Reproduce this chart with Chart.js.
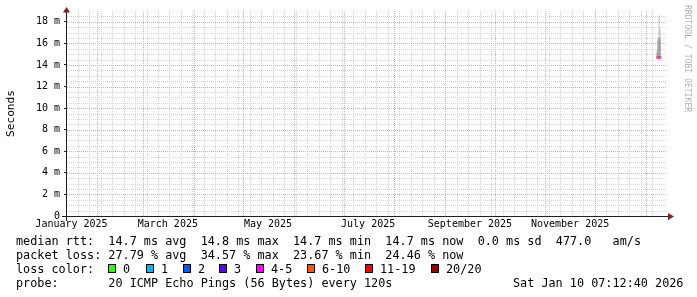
<!DOCTYPE html>
<html>
<head>
<meta charset="utf-8">
<title>smokeping - last 360 days</title>
<script src="https://cdn.jsdelivr.net/npm/chart.js@4.4.1/dist/chart.umd.min.js"></script>
<style>
  html, body { margin: 0; padding: 0; background: #fff; }
  #wrap { width: 697px; height: 297px; }
</style>
</head>
<body>
<div id="wrap"><canvas id="smoke" width="697" height="297"></canvas></div>
<script>
// x values are days counted from 1 Jan 2025 (= day 0), y values are milliseconds
const rangeStart = 15.3;   // Jan 16 2025 07:12
const rangeEnd = 375.3;    // Jan 10 2026 07:12
const firstMonday = 5;     // Jan 6 2025
const monthStarts = [31, 59, 90, 120, 151, 181, 212, 243, 273, 304, 334, 365];
const monthLabels = ['January 2025', 'March 2025', 'May 2025', 'July 2025', 'September 2025', 'November 2025'];
const labelDays = [15.3, 74, 135, 196, 258, 319];
const yLabelValues = [0, 2, 4, 6, 8, 10, 12, 14, 16, 18];

// the few days with samples, at the right edge
const sampleDays = [372.0, 372.6, 373.2, 373.8];
const rttMin = [14.6, 14.6, 14.6, 14.6];
const rttMax = [15.4, 16.4, 18.6, 17.3];
const coreLow = [14.6, 14.7, 14.7, 14.7];
const coreHigh = [15.1, 16.2, 16.6, 16.4];
const medianRtt = [14.7, 14.7, 14.7, 14.7];
const lostPings = [6, 6, 5, 5];

const lossBuckets = ['0', '1', '2', '3', '4-5', '6-10', '11-19', '20/20'];
const lossColors = ['#26ff00', '#00b8ff', '#0059ff', '#5e00ff', '#ff00ff', '#ff5500', '#ff0000', '#a10000'];
const lossBoxX = [108, 146, 183, 219, 256, 307, 365, 431];

const legendLines = [
  'median rtt:  14.7 ms avg  14.8 ms max  14.7 ms min  14.7 ms now  0.0 ms sd  477.0   am/s',
  'packet loss: 27.79 % avg  34.57 % max  23.67 % min  24.46 % now',
];
const probeLine = 'probe:       20 ICMP Echo Pings (56 Bytes) every 120s';
const stampText = 'Sat Jan 10 07:12:40 2026';
const watermark = 'RRDTOOL / TOBI OETIKER';

const MONO = '"DejaVu Sans Mono", "Liberation Mono", monospace';
const minorGrid = '#d6d6d6';
const majorGrid = '#f2a2a2';
const axisColor = '#1f1f1f';
const arrowColor = '#801f1f';
const none = 'rgba(0,0,0,0)';

const lossColorFor = (n) => {
  if (n <= 3) return lossColors[n];
  if (n <= 5) return lossColors[4];
  if (n <= 10) return lossColors[5];
  if (n <= 19) return lossColors[6];
  return lossColors[7];
};

// vertical grid: weekly (mondays), monthly, and the label positions
const mondays = [];
for (let d = firstMonday; d < rangeEnd; d += 7) {
  if (d > rangeStart && !monthStarts.includes(d)) mondays.push(d);
}
const xTickValues = [...new Set([...mondays, ...monthStarts, ...labelDays])].sort((a, b) => a - b);
const yTickValues = [];
for (let v = 0; v < 19; v += 0.5) yTickValues.push(v);

const tickVal = (c) => (c && c.tick ? c.tick.value : null);

// dotted rrdtool style grid, placed through the chart scales
const dottedGrid = {
  id: 'dottedGrid',
  beforeDatasetsDraw(chart) {
    const ctx = chart.ctx;
    const ca = chart.chartArea;
    const xs = chart.scales.x;
    const ys = chart.scales.y;
    const top = Math.round(ca.top);
    const bottom = Math.round(ca.bottom);
    const left = Math.round(ca.left);
    const right = Math.round(ca.right);
    const hLine = (v, color) => {
      const row = Math.round(ys.getPixelForValue(v));
      ctx.fillStyle = color;
      for (let x = left; x < right; x += 2) ctx.fillRect(x, row, 1, 1);
    };
    const vLine = (v, color) => {
      const col = Math.round(xs.getPixelForValue(v));
      ctx.fillStyle = color;
      for (let y = bottom - 1; y >= top; y -= 2) ctx.fillRect(col, y, 1, 1);
    };
    ctx.save();
    yTickValues.filter(v => v > 0 && !yLabelValues.includes(v)).forEach(v => hLine(v, minorGrid));
    mondays.forEach(v => vLine(v, minorGrid));
    yLabelValues.filter(v => v > 0).forEach(v => hLine(v, majorGrid));
    monthStarts.forEach(v => vLine(v, majorGrid));
    ctx.restore();
  }
};

const rrdDecor = {
  id: 'rrdDecor',
  beforeDraw(chart) {
    const ctx = chart.ctx;
    ctx.save();
    ctx.fillStyle = '#fff';
    ctx.fillRect(0, 0, chart.width, chart.height);
    ctx.restore();
  },
  afterDraw(chart) {
    const ctx = chart.ctx;
    const ca = chart.chartArea;
    ctx.save();

    // axes
    ctx.strokeStyle = axisColor;
    ctx.lineWidth = 1;
    ctx.beginPath();
    ctx.moveTo(ca.left - 5, ca.bottom + 0.5);
    ctx.lineTo(ca.right + 3, ca.bottom + 0.5);
    ctx.moveTo(ca.left - 0.5, ca.bottom + 5);
    ctx.lineTo(ca.left - 0.5, ca.top - 2);
    ctx.stroke();

    // arrows
    ctx.fillStyle = arrowColor;
    ctx.beginPath();
    ctx.moveTo(ca.right + 1, ca.bottom + 0.5 - 3.5);
    ctx.lineTo(ca.right + 7, ca.bottom + 0.5);
    ctx.lineTo(ca.right + 1, ca.bottom + 0.5 + 3.5);
    ctx.closePath();
    ctx.fill();
    ctx.beginPath();
    ctx.moveTo(ca.left - 0.5 - 3.5, ca.top + 1.5);
    ctx.lineTo(ca.left - 0.5, ca.top - 4);
    ctx.lineTo(ca.left - 0.5 + 3.5, ca.top + 1.5);
    ctx.closePath();
    ctx.fill();

    // watermark on the right
    ctx.save();
    ctx.translate(685, 5);
    ctx.rotate(Math.PI / 2);
    ctx.font = '8.1px ' + MONO;
    ctx.fillStyle = 'rgba(0,0,0,0.33)';
    ctx.textBaseline = 'alphabetic';
    ctx.fillText(watermark, 0, 0);
    ctx.restore();

    // legend
    ctx.font = '11.8px ' + MONO;
    ctx.fillStyle = '#000';
    ctx.textBaseline = 'alphabetic';
    ctx.fillText(legendLines[0], 16, 245);
    ctx.fillText(legendLines[1], 16, 259);
    ctx.fillText('loss color:', 16, 273);
    lossBuckets.forEach((b, i) => {
      const x = lossBoxX[i];
      ctx.fillStyle = lossColors[i];
      ctx.fillRect(x, 264, 8, 9);
      ctx.strokeStyle = '#000';
      ctx.strokeRect(x + 0.5, 264.5, 7, 8);
      ctx.fillStyle = '#000';
      ctx.fillText(b, x + 15, 273);
    });
    ctx.fillText(probeLine, 16, 287);
    ctx.fillText(stampText, 513, 287);

    ctx.restore();
  }
};

const ctx = document.getElementById('smoke').getContext('2d');
new Chart(ctx, {
  type: 'bar',
  data: {
    datasets: [
      {
        label: 'median',
        order: 0,
        data: sampleDays.map((d, i) => ({ x: d, y: [medianRtt[i] - 0.14, medianRtt[i] + 0.14] })),
        backgroundColor: lostPings.map(lossColorFor),
      },
      {
        label: 'smoke core',
        order: 1,
        data: sampleDays.map((d, i) => ({ x: d, y: [coreLow[i], coreHigh[i]] })),
        backgroundColor: '#949494',
      },
      {
        label: 'smoke',
        order: 2,
        data: sampleDays.map((d, i) => ({ x: d, y: [rttMin[i], rttMax[i]] })),
        backgroundColor: '#bdbdbd',
      }
    ]
  },
  options: {
    responsive: false,
    animation: false,
    events: [],
    layout: { padding: { top: 11, right: 30, bottom: 61, left: 0 } },
    datasets: {
      bar: { grouped: false, barThickness: 1, borderWidth: 0, inflateAmount: 0 }
    },
    plugins: {
      legend: { display: false },
      tooltip: { enabled: false },
      title: { display: false }
    },
    scales: {
      x: {
        type: 'linear',
        min: rangeStart,
        max: rangeEnd,
        afterBuildTicks: (s) => { s.ticks = xTickValues.map(v => ({ value: v })); },
        afterFit: (s) => { s.height = 20; },
        grid: {
          drawOnChartArea: false,
          tickLength: 2,
          tickColor: none
        },
        border: { display: false },
        ticks: {
          autoSkip: false,
          maxRotation: 0,
          minRotation: 0,
          padding: 0,
          color: '#000',
          font: { family: MONO, size: 10 },
          callback: (v) => {
            const i = labelDays.indexOf(v);
            return i >= 0 ? monthLabels[i] : '';
          }
        }
      },
      y: {
        min: 0,
        max: 19,
        afterBuildTicks: (s) => { s.ticks = yTickValues.map(v => ({ value: v })); },
        afterFit: (s) => { s.width = 67; },
        grid: {
          drawOnChartArea: false,
          tickLength: 3,
          tickColor: (c) => yLabelValues.includes(tickVal(c)) ? axisColor : none
        },
        border: { display: false },
        ticks: {
          autoSkip: false,
          padding: 4,
          color: '#000',
          font: { family: MONO, size: 10 },
          callback: (v) => yLabelValues.includes(v) ? (v === 0 ? '0' : v + ' m') : ''
        },
        title: {
          display: true,
          text: 'Seconds',
          color: '#000',
          font: { family: MONO, size: 11.2 },
          padding: { top: 4, bottom: 4 }
        }
      }
    }
  },
  plugins: [dottedGrid, rrdDecor]
});
</script>
</body>
</html>
